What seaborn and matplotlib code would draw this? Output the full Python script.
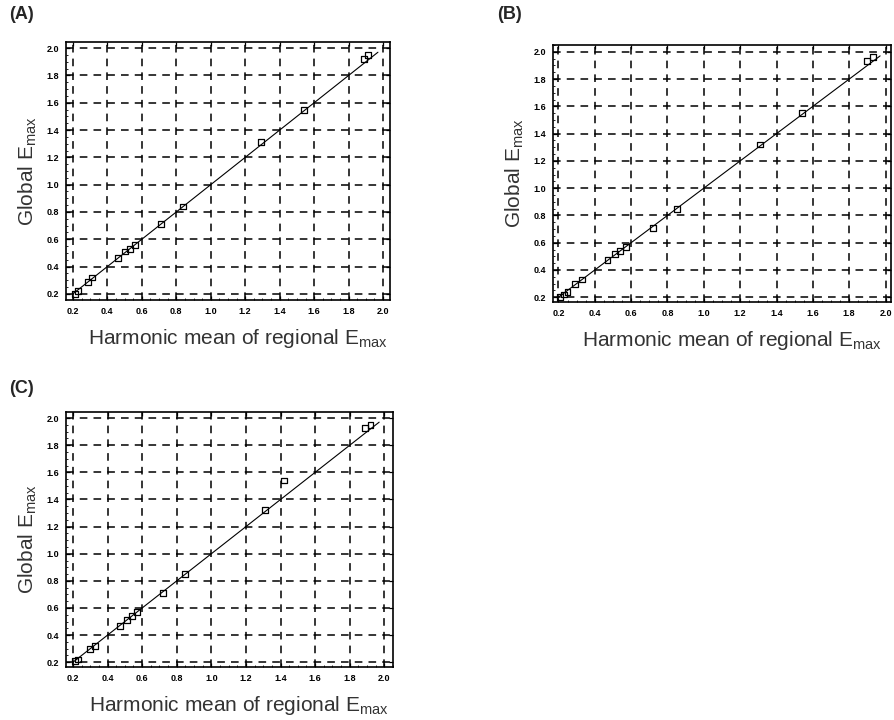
import matplotlib
matplotlib.use("Agg")
import matplotlib.pyplot as plt
import seaborn as sns
import numpy as np
import pandas as pd
from matplotlib.ticker import MultipleLocator, FormatStrFormatter

# Data
x_a = [0.21, 0.23, 0.29, 0.31, 0.46, 0.50, 0.53, 0.56, 0.71, 0.84, 1.29, 1.54, 1.89, 1.91]
y_a = [0.20, 0.22, 0.29, 0.32, 0.46, 0.51, 0.53, 0.56, 0.71, 0.84, 1.31, 1.55, 1.92, 1.95]

x_b = [0.21, 0.23, 0.25, 0.29, 0.33, 0.47, 0.51, 0.54, 0.57, 0.72, 0.85, 1.31, 1.54, 1.90, 1.93]
y_b = [0.20, 0.22, 0.24, 0.30, 0.33, 0.47, 0.52, 0.54, 0.57, 0.71, 0.85, 1.32, 1.55, 1.93, 1.96]

x_c = [0.21, 0.23, 0.30, 0.33, 0.47, 0.51, 0.54, 0.57, 0.72, 0.85, 1.31, 1.42, 1.89, 1.92]
y_c = [0.21, 0.22, 0.30, 0.32, 0.47, 0.51, 0.54, 0.57, 0.71, 0.85, 1.32, 1.54, 1.93, 1.95]

line_x = [0.20, 1.97]
line_y = [0.20, 1.97]

ticks = [0.2, 0.4, 0.6, 0.8, 1.0, 1.2, 1.4, 1.6, 1.8, 2.0]
panel_labels = ["(A)", "(B)", "(C)"]
xlabel = r"Harmonic mean of regional E$_{\rm max}$"
ylabel = r"Global E$_{\rm max}$"

sns.set_theme(style="white")
plt.rcParams["font.family"] = ["Liberation Sans", "DejaVu Sans"]
plt.rcParams["mathtext.fontset"] = "custom"
plt.rcParams["mathtext.rm"] = "Liberation Sans"
plt.rcParams["mathtext.it"] = "Liberation Sans"

W, H = 894, 720
fig = plt.figure(figsize=(W / 100, H / 100), dpi=100)

def ax_box(l, t, r, b):
    return [l / W, 1 - b / H, (r - l) / W, (b - t) / H]

boxes = [ax_box(66, 42, 390, 300), ax_box(553, 45, 891, 302), ax_box(66, 412, 393, 667)]
lims = [((0.16, 2.04), (0.155, 2.045)),
        ((0.17, 2.03), (0.165, 2.05)),
        ((0.16, 2.05), (0.165, 2.045))]
datasets = [(x_a, y_a), (x_b, y_b), (x_c, y_c)]
label_pos = [(9, 6), (497, 6), (9, 380)]

for i, (box, (xl, yl), (xs, ys)) in enumerate(zip(boxes, lims, datasets)):
    ax = fig.add_axes(box)
    df = pd.DataFrame({"x": xs, "y": ys})
    ldf = pd.DataFrame({"x": line_x, "y": line_y})
    sns.lineplot(data=ldf, x="x", y="y", ax=ax, color="black", linewidth=0.8)
    sns.scatterplot(data=df, x="x", y="y", ax=ax, marker="s", s=18,
                    facecolor="none", edgecolor="black", linewidth=0.9, zorder=3)
    ax.set_xlim(*xl)
    ax.set_ylim(*yl)
    ax.set_xticks(ticks)
    ax.set_yticks(ticks)
    ax.xaxis.set_major_formatter(FormatStrFormatter("%.1f"))
    ax.yaxis.set_major_formatter(FormatStrFormatter("%.1f"))
    ax.xaxis.set_minor_locator(MultipleLocator(0.05))
    ax.yaxis.set_minor_locator(MultipleLocator(0.05))
    ax.tick_params(which="major", direction="in", length=3, width=0.9, labelsize=6.5, pad=5,
                   bottom=True, left=True, top=True, right=True, colors="black")
    ax.tick_params(which="minor", direction="in", length=1.5, width=0.6,
                   bottom=True, left=True, top=False, right=False, colors="black")
    for lab in ax.get_xticklabels() + ax.get_yticklabels():
        lab.set_fontweight("bold")
    ax.grid(True, which="major", color="black", linestyle=(0, (5, 4)), linewidth=1.1)
    for sp in ax.spines.values():
        sp.set_color("black")
        sp.set_linewidth(1.2)
    ax.set_xlabel(xlabel, fontsize=15, color="#333333")
    ax.xaxis.set_label_coords(0.53, -0.105)
    ax.xaxis.label.set_va("top")
    ax.set_ylabel(ylabel, fontsize=15, labelpad=5, color="#333333")
    fig.text(label_pos[i][0] / W, 1 - label_pos[i][1] / H, panel_labels[i],
             fontsize=13, fontweight="bold", va="top", ha="left")

fig.savefig("out.png", dpi=100, facecolor="white")
